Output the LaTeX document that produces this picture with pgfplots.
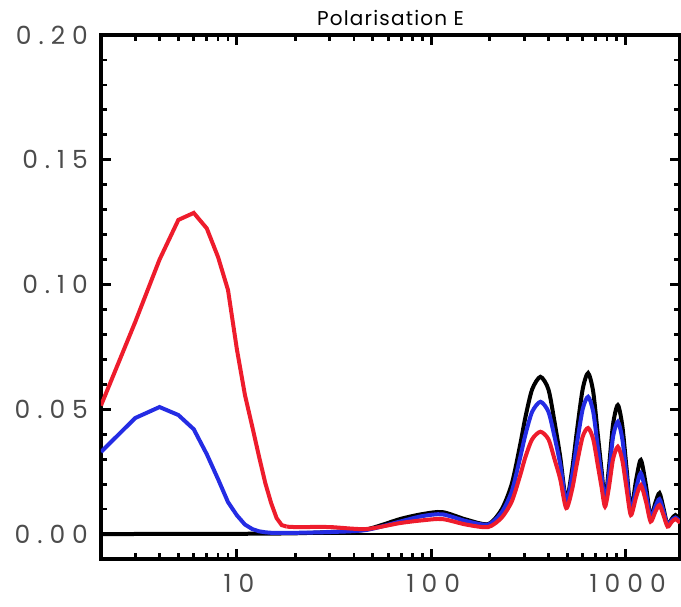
\documentclass[border=0pt]{standalone}
\usepackage{fontspec}
\setmainfont{Poppins}
\newfontfamily\labelfont[LetterSpace=28]{Poppins}
\newfontfamily\titlefont[LetterSpace=6]{Poppins}
\usepackage{pgfplots}
\pgfplotsset{compat=1.18}

\definecolor{cmbred}{RGB}{238,28,44}
\definecolor{cmbblue}{RGB}{36,44,228}

% multipole values are typed as they are; the axis is laid out in log10 of them
\pgfplotsset{logl/.style={x filter/.code={\pgfmathparse{log10(\pgfmathresult)}}}}

\begin{document}
\begin{tikzpicture}
\begin{axis}[
    scale only axis,
    width=289.5pt, height=262pt,
    at={(0,0)}, anchor=south west,
    xmin=0.30103, xmax=3.27875,
    % values typed as read (0.00-0.20), axis laid out in hundredths
    y filter/.code={\pgfmathparse{100*\pgfmathresult}},
    ymin=-1, ymax=20,
    axis line style={line width=1.6pt, black},
    tick style={line width=1.4pt, black},
    major tick length=5pt, minor tick length=3pt,
    xtick={1,2,3}, xticklabels={10,100,1000},
    ytick={0,5,10,15,20},
    yticklabels={0.00,0.05,0.10,0.15,0.20},
    minor y tick num=4,
    tick align=inside,
    tick pos=both,
    ticklabel style={font=\labelfont\fontsize{12.5}{14}\selectfont, text=black!70},
    xticklabel style={yshift=-4pt, xshift=1pt},
    yticklabel style={xshift=-3pt},
    title={Polarisation E},
    title style={font=\titlefont\fontsize{10}{11}\selectfont, yshift=-5pt},
]
% zero line
\addplot[black, line width=1pt] coordinates {(0.30103,0) (3.27875,0)};
% black
\addplot[logl, black, line width=2pt, smooth, tension=0.45] coordinates {
(2,0) (10,0.0001) (20,0.0003) (30,0.0008) (46,0.0018) (69,0.0060) (90,0.0080) (114,0.0088) (151,0.0058) (196,0.0040)
(230,0.0099) (259,0.020) (285,0.035) (305,0.047) (330,0.058) (364,0.063) (400,0.058) (430,0.045) (460,0.031) (494,0.0136)
(530,0.026) (560,0.041) (600,0.058) (640,0.0645) (680,0.057) (720,0.039) (750,0.026) (782,0.0136)
(820,0.027) (860,0.044) (910,0.0517) (960,0.0433) (1010,0.026) (1062,0.0096)
(1130,0.0217) (1195,0.0297) (1270,0.0194) (1342,0.0068)
(1420,0.0126) (1490,0.0164) (1560,0.0106) (1640,0.0036)
(1720,0.0060) (1800,0.0076) (1900,0.0055)};
% blue
\addplot[logl, cmbblue, line width=2pt] coordinates {
(2,0.0329) (3,0.0465) (4,0.0509) (5,0.0477) (6,0.042) (7,0.032) (8,0.022) (9,0.0128) (10,0.0075) (11,0.0038) (12,0.002) (13,0.0011) (14,0.0007) (15,0.0005)};
\addplot[logl, cmbblue, line width=2pt, smooth, tension=0.45] coordinates {
(15,0.0005) (20,0.0005) (30,0.0008) (46,0.0016) (69,0.0050) (90,0.0072) (114,0.0079) (151,0.0052) (196,0.0038)
(230,0.0087) (259,0.017) (285,0.030) (305,0.040) (330,0.049) (364,0.053) (400,0.049) (430,0.039) (460,0.028) (494,0.013)
(530,0.0235) (560,0.036) (600,0.050) (640,0.055) (680,0.049) (720,0.034) (750,0.0235) (782,0.013)
(820,0.024) (860,0.039) (910,0.045) (960,0.038) (1010,0.023) (1062,0.009)
(1130,0.0182) (1195,0.0244) (1270,0.0163) (1342,0.0065)
(1420,0.011) (1490,0.014) (1560,0.0093) (1640,0.0035)
(1720,0.0055) (1800,0.0066) (1900,0.005)};
% red
\addplot[logl, cmbred, line width=2pt] coordinates {
(2,0.0515) (3,0.085) (4,0.110) (5,0.1259) (6,0.1287) (7,0.1225) (8,0.111) (9,0.0978) (10,0.074) (11,0.0557) (12,0.043) (13,0.031) (14,0.0204) (15,0.0124) (16,0.0064) (17,0.0036) (18,0.003)};
\addplot[logl, cmbred, line width=2pt, smooth, tension=0.45] coordinates {
(18,0.003) (20,0.0028) (30,0.0028) (46,0.0020) (69,0.0044) (90,0.0055) (114,0.0060) (151,0.0038) (196,0.0028)
(230,0.0066) (259,0.013) (285,0.023) (305,0.031) (330,0.038) (364,0.041) (400,0.038) (430,0.030) (460,0.022) (494,0.0104)
(530,0.018) (560,0.028) (600,0.039) (640,0.0425) (680,0.038) (720,0.027) (750,0.019) (782,0.011)
(820,0.019) (860,0.030) (910,0.035) (960,0.0295) (1010,0.018) (1062,0.0076)
(1130,0.0148) (1195,0.0196) (1270,0.0130) (1342,0.005)
(1420,0.009) (1490,0.0116) (1560,0.0077) (1640,0.003)
(1720,0.0048) (1800,0.006) (1900,0.0045)};
\end{axis}
% x ticks drawn on the frame (axis box is 289.5pt x 262pt at the origin)
\foreach \v in {2,3,4,5,6,7,8,9,20,30,40,50,60,70,80,90,200,300,400,500,600,700,800,900} {
  \pgfmathsetmacro\px{(log10(\v)-0.30103)/2.97772*289.5}
  \draw[line width=1.4pt] (\px pt,0pt) -- (\px pt,3pt);
  \draw[line width=1.4pt] (\px pt,262pt) -- (\px pt,259pt);
}
\foreach \v in {10,100,1000} {
  \pgfmathsetmacro\px{(log10(\v)-0.30103)/2.97772*289.5}
  \draw[line width=1.4pt] (\px pt,0pt) -- (\px pt,5pt);
  \draw[line width=1.4pt] (\px pt,262pt) -- (\px pt,257pt);
}
\pgfresetboundingbox
\path[use as bounding box] (-50.5pt,-23.5pt) rectangle (290pt,279.5pt);
\end{tikzpicture}
\end{document}
